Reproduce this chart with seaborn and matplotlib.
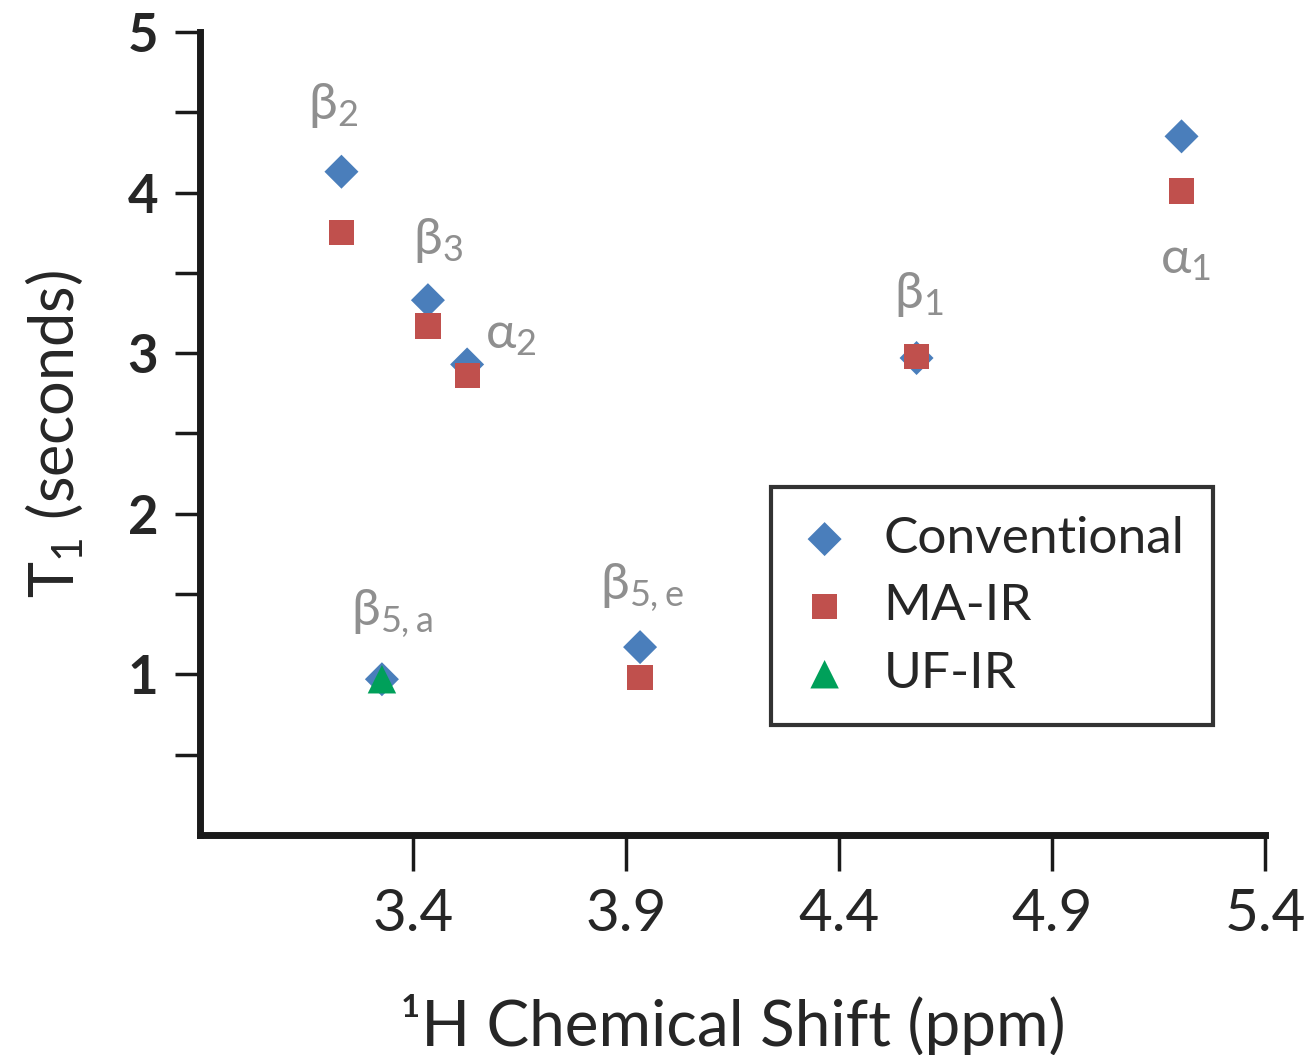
import pandas as pd
import numpy as np
import matplotlib.pyplot as plt
import seaborn as sns

# --- data ---
shift_conv = [3.232, 3.435, 3.527, 3.327, 3.933, 4.582, 5.204]
t1_conv = [4.13, 3.33, 2.93, 0.97, 1.17, 2.97, 4.35]

shift_ma = [3.232, 3.435, 3.527, 3.933, 4.582, 5.204]
t1_ma = [3.75, 3.17, 2.86, 0.98, 2.98, 4.01]

shift_uf = [3.327]
t1_uf = [0.97]

peak_labels = ['β$_{2}$', 'β$_{3}$', 'α$_{2}$', 'β$_{5,a}$', 'β$_{5,e}$', 'β$_{1}$', 'α$_{1}$']

x_ticks = [3.4, 3.9, 4.4, 4.9, 5.4]
y_ticks = [1, 2, 3, 4, 5]

sns.set_style('white')
plt.rcParams['font.family'] = ['Lato', 'DejaVu Sans']
plt.rcParams['mathtext.fontset'] = 'custom'
plt.rcParams['mathtext.rm'] = 'Lato'
plt.rcParams['mathtext.it'] = 'Lato'
plt.rcParams['mathtext.bf'] = 'Lato:bold'
plt.rcParams['mathtext.default'] = 'regular'

fig = plt.figure(figsize=(13.09, 10.55), dpi=100)
ax = fig.add_axes([0.1528, 0.2085, 0.8136, 0.7612])

blue = '#4a7ebb'
red = '#c0504d'
green = '#00a05a'

sns.scatterplot(x=shift_conv, y=t1_conv, marker='D', s=300, color=blue,
                edgecolor='none', label='Conventional', ax=ax, zorder=3)
sns.scatterplot(x=shift_ma, y=t1_ma, marker='s', s=330, color=red,
                edgecolor='none', label='MA-IR', ax=ax, zorder=4)
sns.scatterplot(x=shift_uf, y=t1_uf, marker='^', s=420, color=green,
                edgecolor='none', label='UF-IR', ax=ax, zorder=5)

# label offsets (pixels) relative to the conventional points
offsets = [(-8, 66), (10, 60), (44, 29), (10, 66), (2, 60), (2, 64), (4, -124)]
for lab, xv, yv, off in zip(peak_labels, shift_conv, t1_conv, offsets):
    ax.annotate(lab, (xv, yv), xytext=off, textcoords='offset pixels',
                ha='center', va='center', fontsize=37, color='#8f8f8f')

ax.set_xlim(2.9, 5.4)
ax.set_ylim(0, 5)
ax.set_xticks(x_ticks)
ax.set_xticklabels([f'{v:.1f}' for v in x_ticks])
ax.set_yticks(y_ticks)
ax.set_yticklabels([str(v) for v in y_ticks], fontweight='bold')
ax.set_yticks(np.arange(0.5, 5.0, 1.0), minor=True)

for side in ['top', 'right']:
    ax.spines[side].set_visible(False)
for side in ['left', 'bottom']:
    ax.spines[side].set_linewidth(5)
    ax.spines[side].set_color('#1a1a1a')

ax.tick_params(axis='x', which='major', direction='out', length=26, width=2.5,
               labelsize=42, pad=12, bottom=True, color='#1a1a1a')
ax.tick_params(axis='y', which='both', direction='out', length=18, width=2.5,
               labelsize=38, pad=12, left=True, color='#1a1a1a')

ax.set_xlabel('¹H Chemical Shift (ppm)', fontsize=46, labelpad=38)
ax.set_ylabel('T$_{1}$ (seconds)', fontsize=44, labelpad=30)

leg = ax.legend(loc='upper right', bbox_to_anchor=(0.951, 0.433),
                borderaxespad=0, fontsize=37, frameon=True, fancybox=False,
                handletextpad=0.65, handlelength=1.0, labelspacing=0.42,
                borderpad=0.55, markerscale=1.0)
leg.get_frame().set_edgecolor('black')
leg.get_frame().set_linewidth(3)

fig.savefig('out.png', dpi=100)
